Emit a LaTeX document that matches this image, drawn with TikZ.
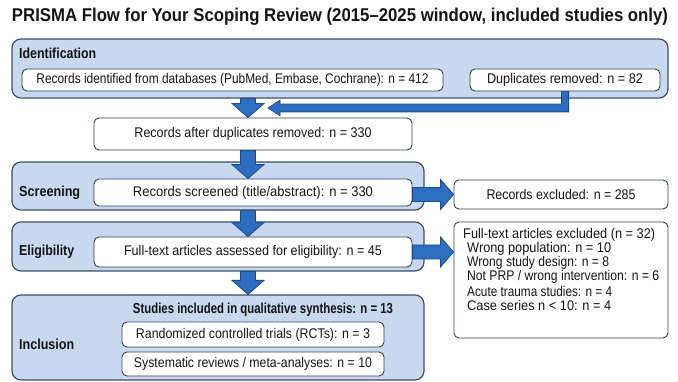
\documentclass[tikz,border=0pt]{standalone}
\usepackage{fontspec}
\setmainfont{Liberation Sans}
\usetikzlibrary{calc}

\definecolor{panelfill}{HTML}{C7D8EF}
\definecolor{panelline}{HTML}{3F4E66}
\definecolor{boxline}{HTML}{363D4B}
\definecolor{arrowfill}{HTML}{2C6DC0}
\definecolor{arrowline}{HTML}{1B4D8E}
\definecolor{inktext}{HTML}{151515}

% squeeze a text horizontally to a given width (in pt), keeping its height
\newcommand\fitw[2]{\resizebox{#1pt}{\height}{#2}}

% thick block arrow pointing down: #1 = start point, #2 = tip
\newcommand\downblock[2]{%
  \path[blockarrow] let \p1=(#1), \p2=(#2) in
    (\x2-7.5pt,\y1) -- (\x2+7.5pt,\y1) -- (\x2+7.5pt,\y2+14pt) -- (\x2+16pt,\y2+14pt)
    -- (\x2,\y2) -- (\x2-16pt,\y2+14pt) -- (\x2-7.5pt,\y2+14pt) -- cycle;}

% thick block arrow pointing right: #1 = start point, #2 = tip
\newcommand\rightblock[2]{%
  \path[blockarrow] let \p1=(#1), \p2=(#2) in
    (\x1,\y2+7pt) -- (\x2-13pt,\y2+7pt) -- (\x2-13pt,\y2+15pt) -- (\x2,\y2)
    -- (\x2-13pt,\y2-15pt) -- (\x2-13pt,\y2-7pt) -- (\x1,\y2-7pt) -- cycle;}

% elbow arrow: down from #1, then left to the tip #2
\newcommand\elbowblock[2]{%
  \path[blockarrow] let \p1=(#1), \p2=(#2) in
    (\x1-3.6pt,\y1) -- (\x1+3.6pt,\y1) -- (\x1+3.6pt,\y2-3.9pt) -- (\x2+12pt,\y2-3.9pt)
    -- (\x2+12pt,\y2-7.8pt) -- (\x2,\y2) -- (\x2+12pt,\y2+7.8pt) -- (\x2+12pt,\y2+3.9pt)
    -- (\x1-3.6pt,\y2+3.9pt) -- cycle;}

\begin{document}
\begin{tikzpicture}[x=1pt,y=-1pt,
  panel/.style={draw=panelline,line width=1.2pt,fill=panelfill,rounded corners=9pt,inner sep=0pt},
  whitebox/.style={draw=boxline,line width=0.9pt,fill=white,rounded corners=5pt,inner sep=0pt,
    font=\fontsize{14}{16}\selectfont,text=inktext},
  bodytext/.style={font=\fontsize{14}{16}\selectfont,text=inktext,inner sep=0pt,anchor=west},
  stage/.style={font=\bfseries\fontsize{14.5}{17}\selectfont,text=inktext,anchor=west,inner sep=0pt},
  blockarrow/.style={fill=arrowfill,draw=arrowline,line width=0.8pt,line join=miter}
]
\useasboundingbox (0,0) rectangle (678,382);

% heading
\node[font=\bfseries\fontsize{18.5}{21}\selectfont,text=inktext,inner sep=0pt] (title) at (340,17)
  {\fitw{656}{PRISMA Flow for Your Scoping Review (2015–2025 window, included studies only)}};

% stage panels
\node[panel,minimum width=656pt,minimum height=59pt] (ident)  at (340,68.5) {};
\node[panel,minimum width=412pt,minimum height=48pt] (screen) at (218,186) {};
\node[panel,minimum width=412pt,minimum height=49pt] (elig)   at (218,246.5) {};
\node[panel,minimum width=412pt,minimum height=85pt] (incl)   at (218,337.5) {};

\node[stage] (identlbl)  at (19,53)  {\fitw{77}{Identification}};
\node[stage] (screenlbl) at (19,193) {\fitw{61}{Screening}};
\node[stage] (eliglbl)   at (19,252) {\fitw{55}{Eligibility}};
\node[stage] (incllbl)   at (19,344) {\fitw{55}{Inclusion}};

% record boxes
\node[whitebox,minimum width=421pt,minimum height=22pt] (found) at (232.5,80)
  {\fitw{392}{Records identified from databases (PubMed, Embase, Cochrane): n = 412}};
\node[whitebox,minimum width=190pt,minimum height=22pt] (dups) at (565,80)
  {\fitw{156}{Duplicates removed: n = 82}};
\node[whitebox,minimum width=318pt,minimum height=32pt] (dedup) at (253,134)
  {\fitw{237}{Records after duplicates removed: n = 330}};
\node[whitebox,minimum width=318pt,minimum height=27pt] (screened) at (253,192.5)
  {\fitw{240}{Records screened (title/abstract): n = 330}};
\node[whitebox,minimum width=214pt,minimum height=29pt] (excl) at (561,194.5)
  {\fitw{149}{Records excluded: n = 285}};
\node[whitebox,minimum width=318pt,minimum height=30pt] (fulltext) at (253,252)
  {\fitw{258}{Full-text articles assessed for eligibility: n = 45}};
\node[whitebox,minimum width=214pt,minimum height=116pt] (ftexcl) at (561,280) {};

\node[bodytext] (ft0) at (463,235) {\fitw{192}{Full-text articles excluded (n = 32)}};
\node[bodytext] (ft1) at (467,249) {\fitw{144}{Wrong population: n = 10}};
\node[bodytext] (ft2) at (467,263) {\fitw{142}{Wrong study design: n = 8}};
\node[bodytext] (ft3) at (467,277) {\fitw{192}{Not PRP / wrong intervention: n = 6}};
\node[bodytext] (ft4) at (467,291) {\fitw{145}{Acute trauma studies: n = 4}};
\node[bodytext] (ft5) at (467,305) {\fitw{144}{Case series n < 10: n = 4}};

% included studies
\node[font=\bfseries\fontsize{14.5}{16}\selectfont,text=inktext,inner sep=0pt] (included) at (263,310)
  {\fitw{260}{Studies included in qualitative synthesis: n = 13}};
\node[whitebox,minimum width=262pt,minimum height=25pt] (rct) at (253,334.5)
  {\fitw{234}{Randomized controlled trials (RCTs): n = 3}};
\node[whitebox,minimum width=262pt,minimum height=24pt] (sr) at (253,364)
  {\fitw{238}{Systematic reviews / meta-analyses: n = 10}};

% flow arrows
\coordinate (col) at (248,0);
\coordinate (dupTip) at (268,108);
\coordinate (ftIn) at (fulltext.east -| ftexcl.west);

\downblock{ident.south -| col}{dedup.north -| col}
\downblock{dedup.south -| col}{screened.north -| col}
\downblock{screen.south -| col}{fulltext.north -| col}
\downblock{elig.south -| col}{incl.north -| col}
\elbowblock{dups.south}{dupTip}
\rightblock{screened.east}{excl.west}
\rightblock{fulltext.east}{ftIn}
\end{tikzpicture}
\end{document}
